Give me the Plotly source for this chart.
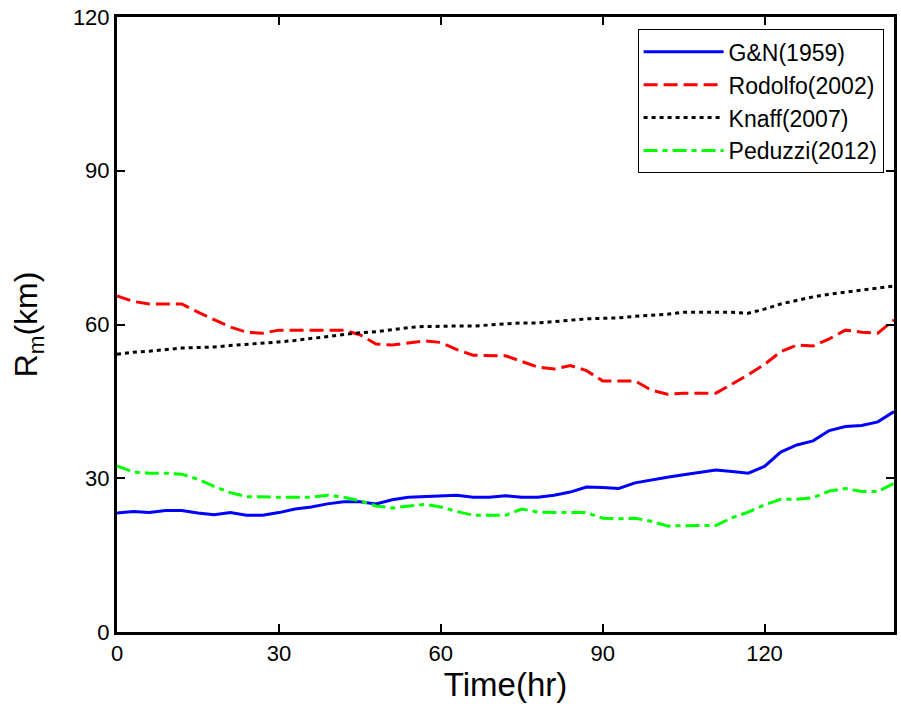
import plotly.graph_objects as go

time_hr = list(range(0, 145, 3))

gn_1959 = [23.2, 23.5, 23.3, 23.7, 23.7, 23.2, 22.9, 23.3, 22.8, 22.8,
           23.3, 24.0, 24.4, 25.0, 25.4, 25.4, 25.0, 25.8, 26.3, 26.4,
           26.6, 26.7, 26.3, 26.3, 26.6, 26.3, 26.3, 26.7, 27.3, 28.3,
           28.2, 28.0, 29.1, 29.7, 30.2, 30.7, 31.1, 31.6, 31.3, 31.0,
           32.3, 35.1, 36.5, 37.3, 39.3, 40.1, 40.3, 41.0, 43.0]

rodolfo_2002 = [65.6, 64.5, 64.0, 64.0, 64.0, 62.4, 60.9, 59.5, 58.5, 58.3,
                58.9, 58.9, 58.9, 58.9, 58.9, 58.0, 56.2, 56.0, 56.4, 56.8,
                56.5, 55.1, 54.0, 54.0, 53.9, 52.8, 51.7, 51.3, 52.0, 51.0,
                49.0, 49.0, 49.0, 47.2, 46.4, 46.6, 46.6, 46.6, 48.4, 50.2,
                52.2, 54.7, 56.0, 55.8, 57.2, 58.9, 58.5, 58.3, 60.9]

knaff_2007 = [54.2, 54.6, 54.8, 55.1, 55.4, 55.5, 55.6, 55.9, 56.1, 56.3,
              56.6, 56.9, 57.3, 57.7, 58.0, 58.4, 58.6, 59.0, 59.4, 59.6,
              59.7, 59.7, 59.7, 59.9, 60.2, 60.3, 60.3, 60.6, 60.8, 61.1,
              61.2, 61.3, 61.6, 61.8, 62.0, 62.4, 62.4, 62.4, 62.4, 62.2,
              63.0, 64.0, 64.7, 65.4, 65.9, 66.3, 66.7, 67.1, 67.5]

peduzzi_2012 = [32.4, 31.2, 31.0, 31.0, 30.8, 29.8, 28.4, 27.2, 26.4, 26.3,
                26.3, 26.3, 26.3, 26.7, 26.3, 25.6, 24.6, 24.2, 24.5, 24.9,
                24.4, 23.5, 22.8, 22.8, 22.8, 24.0, 23.4, 23.3, 23.3, 23.3,
                22.2, 22.1, 22.2, 21.6, 20.7, 20.7, 20.7, 20.8, 22.3, 23.4,
                24.8, 25.9, 25.9, 26.2, 27.5, 28.0, 27.4, 27.4, 29.0]

series_names = ["G&N(1959)", "Rodolfo(2002)", "Knaff(2007)", "Peduzzi(2012)"]
x_ticks = [0, 30, 60, 90, 120]
y_ticks = [0, 30, 60, 90, 120]

styles = [
    dict(color="#0000FF", width=3, dash="solid"),
    dict(color="#FF0000", width=3, dash="14px,6px"),
    dict(color="#000000", width=3, dash="4px,4px"),
    dict(color="#00FF00", width=3, dash="14px,5px,5px,5px"),
]

fig = go.Figure()
for name, vals, st in zip(series_names, [gn_1959, rodolfo_2002, knaff_2007, peduzzi_2012], styles):
    fig.add_trace(go.Scatter(x=time_hr, y=vals, mode="lines", name=name, line=st))

font_family = "Arial, Liberation Sans, sans-serif"
axis_common = dict(
    showline=True, linecolor="black", linewidth=3, mirror="ticks",
    ticks="inside", ticklen=8, tickwidth=2, tickcolor="black",
    showgrid=False, zeroline=False,
    tickfont=dict(family=font_family, size=22, color="black"),
)

fig.update_layout(
    width=901, height=710,
    margin=dict(l=117, r=4, t=17, b=78),
    paper_bgcolor="white", plot_bgcolor="white",
    font=dict(family=font_family, color="black"),
    xaxis=dict(range=[0, 144], tickvals=x_ticks, ticktext=[str(v) for v in x_ticks],
               title=dict(text="Time(hr)", font=dict(size=33), standoff=6), **axis_common),
    yaxis=dict(range=[0, 120], tickvals=y_ticks, ticktext=[str(v) for v in y_ticks],
               title=dict(text="R<sub>m</sub>(km)", font=dict(size=32), standoff=26), **axis_common),
    legend=dict(x=0.67, y=0.98, xanchor="left", yanchor="top",
                bgcolor="white", bordercolor="black", borderwidth=1,
                font=dict(family=font_family, size=23, color="black"),
                itemwidth=80),
    showlegend=True,
)

fig.write_html("out.html")
